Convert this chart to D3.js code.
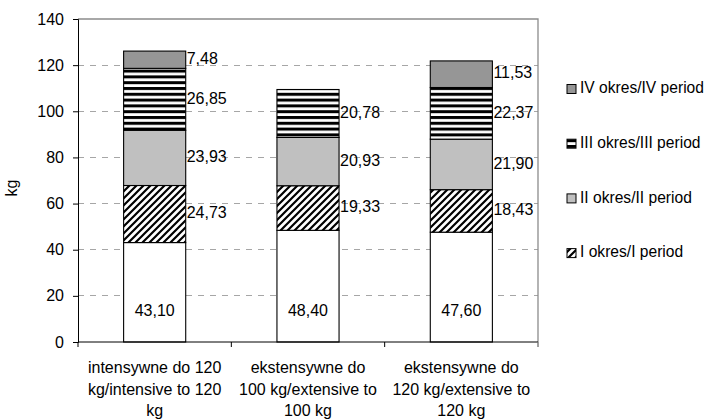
<!DOCTYPE html>
<html>
<head>
<meta charset="utf-8">
<script src="https://cdn.jsdelivr.net/npm/d3@7/dist/d3.min.js"></script>
<style>
  html, body { margin: 0; padding: 0; background: #fff; }
  svg { display: block; font-family: "Liberation Sans", Arial, sans-serif; }
</style>
</head>
<body>
<svg id="chart" width="711" height="419"></svg>
<script>
// Fattening systems (three lines of the category label each)
const categories = [
  ["intensywne do 120", "kg/intensive to 120", "kg"],
  ["ekstensywne do", "100 kg/extensive to", "100 kg"],
  ["ekstensywne do", "120 kg/extensive to", "120 kg"]
];
// Weight gain per segment, kg (bottom to top)
const baseGain  = [43.10, 48.40, 47.60];
const periodI   = [24.73, 19.33, 18.43];
const periodII  = [23.93, 20.93, 21.90];
const periodIII = [26.85, 20.78, 22.37];
const periodIV  = [7.48, 0, 11.53];
const seriesNames = ["", "I okres/I period", "II okres/II period", "III okres/III period", "IV okres/IV period"];
const yTicks = [0, 20, 40, 60, 80, 100, 120, 140];

const stackValues = [baseGain, periodI, periodII, periodIII, periodIV];
const fills = ["#ffffff", "url(#hatch)", "#c0c0c0", "url(#stripes)", "#969696"];

const svg = d3.select("#chart");
const plot = { left: 78, right: 538, top: 19, bottom: 342 };
const FS = 16;

const defs = svg.append("defs");
const hatch = defs.append("pattern").attr("id", "hatch")
  .attr("patternUnits", "userSpaceOnUse").attr("width", 7).attr("height", 7);
hatch.append("rect").attr("width", 7).attr("height", 7).attr("fill", "#fff");
hatch.append("path").attr("d", "M-1,8 L8,-1 M-2,2 L2,-2 M5,9 L9,5")
  .attr("stroke", "#000").attr("stroke-width", 2.2);
const stripes = defs.append("pattern").attr("id", "stripes")
  .attr("patternUnits", "userSpaceOnUse").attr("width", 6).attr("height", 5.8);
stripes.append("rect").attr("width", 6).attr("height", 5.8).attr("fill", "#fff");
stripes.append("rect").attr("y", 0).attr("width", 6).attr("height", 3).attr("fill", "#000");

const x = d3.scaleBand().domain(d3.range(categories.length))
  .range([plot.left, plot.right]).padding(0);
const y = d3.scaleLinear().domain([0, 140]).range([plot.bottom, plot.top]);
const barW = x.bandwidth() * 0.405;

// gridlines
svg.append("g").selectAll("line").data(yTicks.filter(t => t > 0 && t < 140)).join("line")
  .attr("x1", plot.left).attr("x2", plot.right)
  .attr("y1", d => y(d)).attr("y2", d => y(d))
  .attr("stroke", "#a6a6a6").attr("stroke-width", 1).attr("stroke-dasharray", "6,6")
  .attr("shape-rendering", "crispEdges");

// plot frame (top and right)
svg.append("path")
  .attr("d", `M${plot.left},${plot.top}H${plot.right}V${plot.bottom + 5}`)
  .attr("fill", "none").attr("stroke", "#8c8c8c").attr("stroke-width", 1.3);

// stacked bars
const stacks = categories.map((c, i) => {
  let acc = 0;
  return stackValues.map((s, k) => {
    const seg = { cat: i, k, v: s[i], y0: acc, y1: acc + s[i] };
    acc += s[i];
    return seg;
  });
});
const segs = stacks.flat();
svg.append("g").selectAll("rect").data(segs.filter(d => d.v > 0)).join("rect")
  .attr("x", d => x(d.cat) + (x.bandwidth() - barW) / 2)
  .attr("width", barW)
  .attr("y", d => y(d.y1))
  .attr("height", d => y(d.y0) - y(d.y1))
  .attr("fill", d => fills[d.k])
  .attr("stroke", "#000").attr("stroke-width", 1.1);

// value labels
const fmt = v => v.toFixed(2).replace(".", ",");
const labels = svg.append("g").attr("font-size", FS).attr("fill", "#000");
labels.selectAll("text.base").data(segs.filter(d => d.k === 0)).join("text")
  .attr("x", d => x(d.cat) + x.bandwidth() / 2)
  .attr("y", d => y(0) - 30)
  .attr("text-anchor", "middle").attr("dominant-baseline", "middle")
  .text(d => fmt(d.v));
labels.selectAll("text.side").data(segs.filter(d => d.k > 0 && d.v > 0)).join("text")
  .attr("x", d => x(d.cat) + (x.bandwidth() + barW) / 2 + 1)
  .attr("y", d => y((d.y0 + d.y1) / 2))
  .attr("dominant-baseline", "middle")
  .text(d => fmt(d.v));

// y axis
const yAxis = svg.append("g").attr("transform", `translate(${plot.left},0)`)
  .call(d3.axisLeft(y).tickValues(yTicks).tickSize(5).tickPadding(9));
yAxis.select(".domain").attr("stroke", "#000");
yAxis.selectAll(".tick line").attr("stroke", "#000");
yAxis.selectAll(".tick text").attr("font-size", FS).attr("font-family", null).attr("fill", "#000");

// x axis with ticks at category boundaries
svg.append("line").attr("x1", plot.left).attr("x2", plot.right)
  .attr("y1", plot.bottom).attr("y2", plot.bottom).attr("stroke", "#000");
svg.append("g").selectAll("line").data(d3.range(categories.length + 1)).join("line")
  .attr("x1", d => plot.left + d * x.step()).attr("x2", d => plot.left + d * x.step())
  .attr("y1", plot.bottom).attr("y2", plot.bottom + 5)
  .attr("stroke", d => d === categories.length ? "#8c8c8c" : "#000");

// category labels
const catG = svg.append("g").attr("font-size", FS).attr("text-anchor", "middle");
categories.forEach((lines, i) => {
  const cx = x(i) + x.bandwidth() / 2;
  const t = catG.append("text").attr("x", cx).attr("y", 373);
  lines.forEach((ln, j) => t.append("tspan").attr("x", cx)
    .attr("dy", j === 0 ? 0 : 21.5).text(ln));
});

// y axis title
svg.append("text").attr("transform", "translate(13,188) rotate(-90)")
  .attr("text-anchor", "middle").attr("dominant-baseline", "middle")
  .attr("font-size", FS).text("kg");

// legend (top to bottom: IV, III, II, I)
const legendItems = [4, 3, 2, 1];
const lg = svg.append("g");
legendItems.forEach((k, j) => {
  const cy = 89 + j * 54.7;
  lg.append("rect").attr("x", 567).attr("y", cy - 4.5).attr("width", 9).attr("height", 9)
    .attr("fill", fills[k]).attr("stroke", "#000").attr("stroke-width", 1);
  lg.append("text").attr("x", 580).attr("y", cy).attr("dominant-baseline", "middle")
    .attr("font-size", 15.6).text(seriesNames[k]);
});
</script>
</body>
</html>
